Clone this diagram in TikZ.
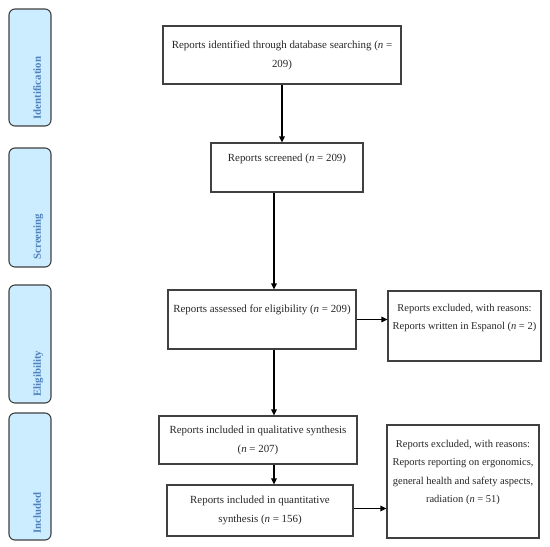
\documentclass[tikz,border=0pt]{standalone}
\usepackage{fontspec}
\setmainfont{Liberation Serif}
\usetikzlibrary{arrows.meta}
\definecolor{sidefill}{RGB}{204,236,255}
\definecolor{sidetext}{RGB}{79,129,189}
\definecolor{boxline}{RGB}{64,64,64}
\begin{document}
\begin{tikzpicture}[x=1pt,y=1pt,
  stagebox/.style={draw=boxline, line width=1.1pt, fill=sidefill, rounded corners=6pt, minimum width=42pt, inner sep=0pt},
  stagelabel/.style={rotate=90, anchor=base west, inner sep=0pt, text=sidetext, font=\fontsize{10.8}{12}\selectfont\bfseries},
  flowbox/.style={draw=boxline, line width=1.1pt, align=center, inner sep=0pt, text=black!85,
    font=\fontsize{10.9}{19}\selectfont},
  flowarrow/.style={draw=black, line width=1.1pt, -{Triangle[length=6pt,width=5.5pt]}}]
\useasboundingbox (0,0) rectangle (550,-547);
% stage boxes
\node[stagebox, minimum height=117pt] (s1) at (30,-67.5) {};
\node[stagebox, minimum height=119pt] (s2) at (30,-207.5) {};
\node[stagebox, minimum height=118pt] (s3) at (30,-344) {};
\node[stagebox, minimum height=127pt] (s4) at (30,-476.5) {};
\node[stagelabel] (t1) at ([xshift=11pt,yshift=7pt]s1.south) {Identification};
\node[stagelabel] (t2) at ([xshift=11pt,yshift=8pt]s2.south) {Screening};
\node[stagelabel] (t3) at ([xshift=11pt,yshift=7pt]s3.south) {Eligibility};
\node[stagelabel] (t4) at ([xshift=11pt,yshift=7pt]s4.south) {Included};
% flow boxes
\node[flowbox, minimum width=238pt, minimum height=58pt] (b1) at (282,-55)
  {Reports identified through database searching (\textit{n} =\\209)};
\node[flowbox, minimum width=152pt, minimum height=49pt] (b2) at (287,-167.5)
  {Reports screened (\textit{n} = 209)\\[-5pt]\strut};
\node[flowbox, minimum width=188pt, minimum height=59pt] (b3) at (262,-319.5)
  {Reports assessed for eligibility (\textit{n} = 209)\\[-4pt]\strut};
\node[flowbox, minimum width=198pt, minimum height=48pt] (b4) at (258,-440)
  {Reports included in qualitative synthesis\\(\textit{n} = 207)};
\node[flowbox, minimum width=186pt, minimum height=51pt] (b5) at (260,-510.5)
  {Reports included in quantitative\\synthesis (\textit{n} = 156)};
\node[flowbox, minimum width=153pt, minimum height=70pt, font=\fontsize{10.5}{18}\selectfont] (e1) at (464.5,-326)
  {Reports excluded, with reasons:\\Reports written in Espanol (\textit{n} = 2)\\[-6pt]\strut};
\node[flowbox, minimum width=152pt, minimum height=113pt, font=\fontsize{10.5}{18.5}\selectfont] (e2) at (463,-481.5)
  {Reports excluded, with reasons:\\Reports reporting on ergonomics,\\general health and safety aspects,\\radiation (\textit{n} = 51)\\[-4pt]\strut};
% connectors
\coordinate (mid) at (274,0);
\draw[flowarrow] (b1.south) -- (b1.south |- b2.north);
\draw[flowarrow] (b2.south -| mid) -- (b3.north -| mid);
\draw[flowarrow] (b3.south -| mid) -- (b4.north -| mid);
\draw[flowarrow] (b4.south -| mid) -- (b5.north -| mid);
\draw[flowarrow] (b3.east) -- (b3.east -| e1.west);
\draw[flowarrow] ([yshift=2pt]b5.east) -- ([yshift=2pt]b5.east -| e2.west);
\end{tikzpicture}
\end{document}
